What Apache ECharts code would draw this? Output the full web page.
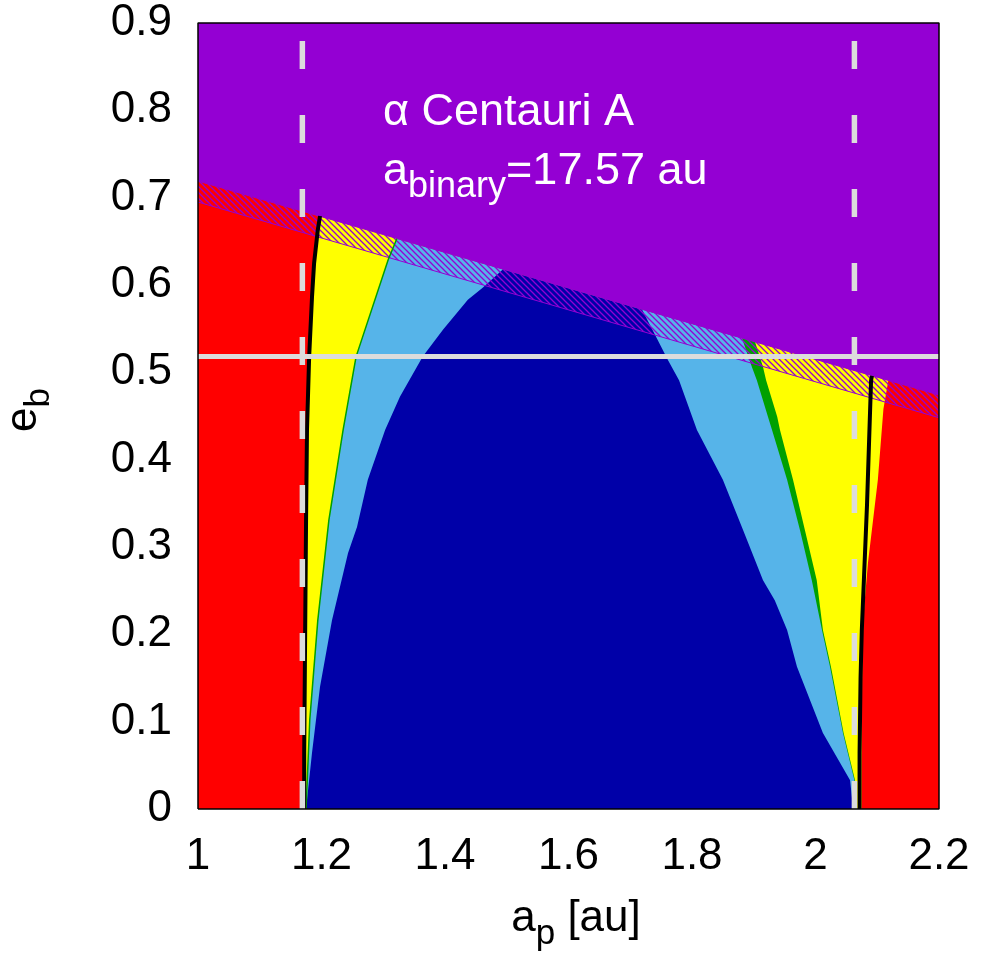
<!DOCTYPE html>
<html><head><meta charset="utf-8">
<script src="https://cdn.jsdelivr.net/npm/echarts@6/dist/echarts.min.js"></script>
<style>html,body{margin:0;padding:0;background:#fff}#c{width:983px;height:957px}</style>
</head><body><div id="c"></div>
<script>
// ---- axis ranges & tick labels ----
const xMin = 1, xMax = 2.2, yMin = 0, yMax = 0.9;
const xTickLabels = ['1', '1.2', '1.4', '1.6', '1.8', '2', '2.2'];
const yTickLabels = ['0', '0.1', '0.2', '0.3', '0.4', '0.5', '0.6', '0.7', '0.8', '0.9'];

// ---- boundary curves [a_p, e_b] ----
const bandUpper = [[1, 0.719], [2.2, 0.474]];
const bandLower = [[1, 0.695], [2.2, 0.448]];
const blackLeft = [[1.172, 0], [1.172, 0.064], [1.1733, 0.182], [1.175, 0.331], [1.1765, 0.434], [1.180, 0.518], [1.1846, 0.586], [1.188, 0.625], [1.194, 0.663], [1.1976, 0.679]];
const greenLeft = [[1.175, 0], [1.181, 0.102], [1.194, 0.216], [1.212, 0.331], [1.235, 0.434], [1.256, 0.518], [1.308, 0.629], [1.322, 0.653]];
const blueLeft = [[1.175, 0], [1.1846, 0.064], [1.1976, 0.140], [1.217, 0.216], [1.243, 0.293], [1.2575, 0.323], [1.275, 0.377], [1.303, 0.434], [1.327, 0.472], [1.364, 0.518], [1.397, 0.549], [1.437, 0.583], [1.4615, 0.597], [1.494, 0.618]];
const blueRight = [[1.719, 0.572], [1.743, 0.539], [1.761, 0.514], [1.779, 0.491], [1.808, 0.434], [1.850, 0.377], [1.883, 0.319], [1.915, 0.262], [1.934, 0.239], [1.954, 0.205], [1.970, 0.163], [2.012, 0.087], [2.056, 0.033], [2.061, 0]];
const greenRightInner = [[1.881, 0.539], [1.897, 0.506], [1.905, 0.491], [1.923, 0.449], [1.9296, 0.434], [1.954, 0.377], [1.975, 0.319], [1.994, 0.262], [2.0105, 0.205], [2.0235, 0.163], [2.0445, 0.087], [2.063, 0.033], [2.062, 0]];
const greenRightOuter = [[1.902, 0.535], [1.915, 0.506], [1.920, 0.491], [1.938, 0.449], [1.9425, 0.434], [1.9636, 0.377], [1.983, 0.319], [2.002, 0.262], [2.012, 0.205], [2.025, 0.163], [2.0455, 0.087], [2.064, 0.033], [2.063, 0]];
const blackRight = [[2.0915, 0.496], [2.090, 0.491], [2.0834, 0.348], [2.075, 0.205], [2.073, 0.151], [2.0714, 0.064], [2.0713, 0]];
const redRight = [[2.118, 0.491], [2.110, 0.458], [2.101, 0.377], [2.085, 0.282], [2.0775, 0.22], [2.0755, 0.15], [2.0748, 0.064], [2.0745, 0]];
const eBinary = 0.518;
const dashedA = [1.169, 2.063];

// ---- regions built from curves ----
const redPoly = [[xMin, yMin], [xMax, yMin], [xMax, yMax], [xMin, yMax]];
const yellowPoly = blackLeft.concat(redRight);
const greenPoly = greenLeft.concat(greenRightOuter);
const lightBluePoly = greenLeft.concat(greenRightInner);
const darkBluePoly = blueLeft.concat(blueRight);
const purplePoly = [bandUpper[0], bandUpper[1], [xMax, yMax], [xMin, yMax]];
const hatchPoly = [bandLower[0], bandLower[1], bandUpper[1], bandUpper[0]];

const C = {
  purple: '#9400d3', red: '#ff0000', yellow: '#ffff00', lightBlue: '#56b4e9',
  darkBlue: '#0000a8', green: '#00a000', gray: '#dcdcdc', black: '#000000'
};

function makeHatch() {
  const c = document.createElement('canvas');
  c.width = 6; c.height = 6;
  const g = c.getContext('2d');
  g.strokeStyle = C.purple; g.lineWidth = 1.3;
  g.beginPath();
  g.moveTo(-1, -1); g.lineTo(7, 7);
  g.moveTo(-1, 5); g.lineTo(1, 7);
  g.moveTo(5, -1); g.lineTo(7, 1);
  g.stroke();
  return c;
}

let zc = 1;
function polySeries(pts, fill) {
  return {
    type: 'custom', coordinateSystem: 'cartesian2d', silent: true, z: zc++, animation: false,
    data: [pts[0]],
    renderItem: function (params, api) {
      return { type: 'polygon', shape: { points: pts.map(p => api.coord(p)) }, style: { fill: fill, stroke: null } };
    }
  };
}
function lineSeries(pts, color, width, dash, clip) {
  return {
    type: 'line', data: pts, symbol: 'none', showSymbol: false, silent: true, z: zc++, animation: false,
    clip: clip !== false,
    lineStyle: { color: color, width: width, type: dash || 'solid', cap: 'butt' }
  };
}

const series = [
  polySeries(redPoly, C.red),
  polySeries(yellowPoly, C.yellow),
  polySeries(greenPoly, C.green),
  polySeries(lightBluePoly, C.lightBlue),
  polySeries(darkBluePoly, C.darkBlue),
  polySeries(purplePoly, C.purple),
  polySeries(hatchPoly, { image: makeHatch(), repeat: 'repeat' }),
  lineSeries(bandLower, C.purple, 1),
  lineSeries(bandUpper, C.purple, 1),
  lineSeries(greenLeft, C.green, 1.5),
  lineSeries(blackLeft, C.black, 4),
  lineSeries(blackRight, C.black, 4),
  lineSeries([[dashedA[0], yMin], [dashedA[0], yMax]], C.gray, 5.5, [28, 46]),
  lineSeries([[dashedA[1], yMin], [dashedA[1], yMax]], C.gray, 5.5, [28, 46]),
  lineSeries([[xMin, eBinary], [xMax, eBinary]], C.gray, 5),
  lineSeries([[xMin, yMin], [xMax, yMin], [xMax, yMax], [xMin, yMax], [xMin, yMin]], C.black, 1.5, null, false)
];

const FONT = '"Liberation Sans", Arial, Helvetica, sans-serif';
const richMain = (size) => ({ fontSize: size, fontFamily: FONT, lineHeight: 50, verticalAlign: 'top' });
const richSub = (size, pad) => ({ fontSize: size, fontFamily: FONT, lineHeight: size, padding: [pad, 0, 0, 0], verticalAlign: 'top' });

const chart = echarts.init(document.getElementById('c'), null, { renderer: 'canvas' });
chart.setOption({
  animation: false,
  backgroundColor: '#ffffff',
  grid: { left: 198, top: 23, width: 741, height: 786, containLabel: false },
  xAxis: {
    type: 'value', min: xMin, max: xMax, interval: 0.2,
    axisLine: { show: false }, axisTick: { show: false }, splitLine: { show: false },
    axisLabel: {
      fontSize: 44, fontFamily: FONT, color: '#000', margin: 26, showMinLabel: true, showMaxLabel: true,
      formatter: v => xTickLabels[Math.round((v - xMin) / 0.2)]
    }
  },
  yAxis: {
    type: 'value', min: yMin, max: yMax, interval: 0.1,
    axisLine: { show: false }, axisTick: { show: false }, splitLine: { show: false },
    axisLabel: {
      fontSize: 44, fontFamily: FONT, color: '#000', margin: 26, showMinLabel: true, showMaxLabel: true,
      formatter: v => yTickLabels[Math.round((v - yMin) / 0.1)]
    }
  },
  graphic: [
    { type: 'text', x: 383, y: 113, z: 100, silent: true,
      style: { text: 'α Centauri A', fill: '#fff', fontSize: 45, fontFamily: FONT, align: 'left', verticalAlign: 'middle' } },
    { type: 'text', x: 383, y: 149, z: 100, silent: true,
      style: { text: '{m|a}{s|binary}{m|=17.57 au}', fill: '#fff', align: 'left', verticalAlign: 'top',
        rich: { m: richMain(45), s: richSub(36, 20) } } },
    { type: 'text', x: 576, y: 897, z: 100, silent: true,
      style: { text: '{m|a}{s|p}{m| [au]}', fill: '#000', align: 'center', verticalAlign: 'top',
        rich: { m: richMain(44), s: richSub(35, 20) } } },
    { type: 'text', x: 2, y: 410, rotation: Math.PI / 2, z: 100, silent: true,
      style: { text: '{m|e}{s|b}', fill: '#000', align: 'center', verticalAlign: 'top',
        rich: { m: richMain(44), s: richSub(35, 20) } } }
  ],
  series: series
});
</script></body></html>
